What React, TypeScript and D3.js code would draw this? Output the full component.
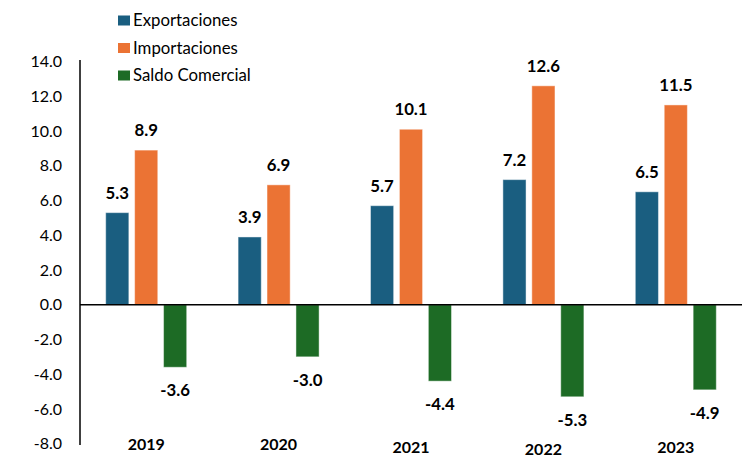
import React from "react";
import * as d3 from "d3";

const years = ["2019", "2020", "2021", "2022", "2023"];
const exportaciones = [5.3, 3.9, 5.7, 7.2, 6.5];
const importaciones = [8.9, 6.9, 10.1, 12.6, 11.5];
const saldo = [-3.6, -3.0, -4.4, -5.3, -4.9];
const seriesNames = ["Exportaciones", "Importaciones", "Saldo Comercial"];
const yTicks = [-8, -6, -4, -2, 0, 2, 4, 6, 8, 10, 12, 14];

const colors = ["#1A5E80", "#EB7334", "#1D6B25"];
const yearBaselines = [450, 450, 453, 455, 453];
const FONT = "Lato, 'Open Sans', sans-serif";

export default function App() {
  const W = 754;
  const H = 458;
  const left = 80;
  const right = 742;
  const y = d3.scaleLinear().domain([-8, 14]).range([443.7, 61.5]);
  const x0 = d3.scaleBand<string>().domain(years).range([left, right]).padding(0);
  const groupW = 81;
  const x1 = d3
    .scaleBand<string>()
    .domain(seriesNames)
    .range([0, groupW])
    .paddingInner(0.2)
    .paddingOuter(0);
  const data = [exportaciones, importaciones, saldo];

  return (
    <svg
      width={W}
      height={H}
      style={{ position: "absolute", left: 0, top: 0, background: "#fff" }}
      fontFamily={FONT}
    >
      {/* legend */}
      {seriesNames.map((s, i) => (
        <g key={s}>
          <rect x={118} y={15.5 + i * 27.5} width={12} height={10} fill={colors[i]} />
          <text x={133} y={26 + i * 27.5} fontSize={16.8} fill="#000">
            {s}
          </text>
        </g>
      ))}

      {/* y tick labels */}
      {yTicks.map((t) => (
        <text
          key={t}
          x={62}
          y={y(t)}
          dy="0.36em"
          textAnchor="end"
          fontSize={16}
          fill="#000"
        >
          {t.toFixed(1)}
        </text>
      ))}

      {/* bars */}
      {years.map((yr, gi) => {
        const gx = (x0(yr) as number) + x0.bandwidth() / 2 - groupW / 2;
        return (
          <g key={yr} transform={`translate(${gx},0)`}>
            {data.map((arr, si) => {
              const v = arr[gi];
              const bx = x1(seriesNames[si]) as number;
              const bw = x1.bandwidth();
              const top = Math.min(y(v), y(0));
              const h = Math.abs(y(v) - y(0));
              return (
                <g key={si}>
                  <rect
                    x={bx}
                    y={top}
                    width={bw}
                    height={h}
                    fill={colors[si]}
                    stroke="#ffffff"
                    strokeOpacity={0.45}
                    strokeWidth={1}
                  />
                  <text
                    x={bx + bw / 2}
                    y={v >= 0 ? y(v) - 14 : y(v) + 29}
                    textAnchor="middle"
                    fontSize={16.8}
                    fontWeight="bold"
                    fill="#000"
                  >
                    {v.toFixed(1)}
                  </text>
                </g>
              );
            })}
          </g>
        );
      })}

      {/* axes */}
      <line x1={left} x2={left} y1={60} y2={445} stroke="#000" strokeWidth={1.5} />
      <line x1={left} x2={right} y1={y(0)} y2={y(0)} stroke="#000" strokeWidth={1.5} />

      {/* year labels */}
      {years.map((yr, i) => (
        <text
          key={yr}
          x={(x0(yr) as number) + x0.bandwidth() / 2}
          y={yearBaselines[i]}
          textAnchor="middle"
          fontSize={16}
          fontWeight="bold"
          fill="#000"
        >
          {yr}
        </text>
      ))}
    </svg>
  );
}
